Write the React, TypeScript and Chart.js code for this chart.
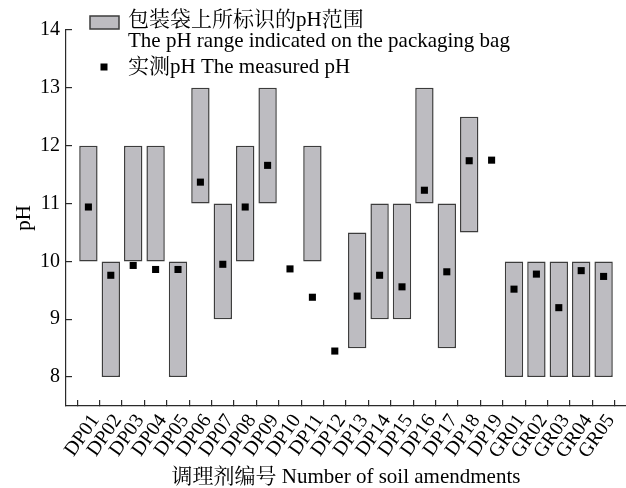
import React, { useEffect, useRef } from 'react';
import { Chart, registerables } from 'chart.js';

Chart.register(...registerables);

const categories = [
  'DP01', 'DP02', 'DP03', 'DP04', 'DP05', 'DP06', 'DP07', 'DP08', 'DP09', 'DP10',
  'DP11', 'DP12', 'DP13', 'DP14', 'DP15', 'DP16', 'DP17', 'DP18', 'DP19',
  'GR01', 'GR02', 'GR03', 'GR04', 'GR05',
];
const rangeLow: (number | null)[] = [
  10, 8, 10, 10, 8, 11, 9, 10, 11, null,
  10, null, 8.5, 9, 9, 11, 8.5, 10.5, null,
  8, 8, 8, 8, 8,
];
const rangeHigh: (number | null)[] = [
  12, 10, 12, 12, 10, 13, 11, 12, 13, null,
  12, null, 10.5, 11, 11, 13, 11, 12.5, null,
  10, 10, 10, 10, 10,
];
const measured = [
  10.94, 9.76, 9.93, 9.86, 9.86, 11.37, 9.95, 10.94, 11.66, 9.87,
  9.38, 8.45, 9.4, 9.76, 9.56, 11.23, 9.82, 11.74, 11.75,
  9.52, 9.78, 9.2, 9.84, 9.74,
];
const yTicks = [8, 9, 10, 11, 12, 13, 14];
const yMin = 7.5;
const yMax = 14;
const legendRangeLines = ['包装袋上所标识的pH范围', 'The pH range indicated on the packaging bag'];
const legendMeasured = '实测pH The measured pH';
const xTitle = '调理剂编号 Number of soil amendments';
const yTitle = 'pH';

const FONT = "'Liberation Serif', 'Times New Roman', 'Noto Serif CJK SC', 'Noto Sans CJK SC', serif";
const BAR_FILL = '#bdbcc1';
const BAR_EDGE = '#3c3c3c';
const AXIS = '#2a2a2a';

const legendPlugin = {
  id: 'customLegend',
  afterDraw(chart: any) {
    const ctx = chart.ctx;
    ctx.save();
    ctx.fillStyle = BAR_FILL;
    ctx.strokeStyle = BAR_EDGE;
    ctx.lineWidth = 1.5;
    ctx.fillRect(90, 16, 29, 13);
    ctx.strokeRect(90, 16, 29, 13);
    ctx.fillStyle = '#000';
    ctx.fillRect(100.5, 63.5, 7, 7);
    ctx.font = `21px ${FONT}`;
    ctx.textAlign = 'left';
    ctx.textBaseline = 'middle';
    ctx.fillStyle = '#000';
    ctx.fillText(legendRangeLines[0], 128, 20);
    ctx.fillText(legendRangeLines[1], 128, 41);
    ctx.fillText(legendMeasured, 128, 67);
    ctx.restore();
  },
};

export default function App() {
  const canvasRef = useRef<HTMLCanvasElement | null>(null);

  useEffect(() => {
    if (!canvasRef.current) return;
    const barData = categories
      .map((_, i) => ({ x: i, y: [rangeLow[i], rangeHigh[i]] }))
      .filter((d) => d.y[0] !== null && d.y[1] !== null);
    const pointData = measured.map((v, i) => ({ x: i, y: v }));

    const chart = new Chart(canvasRef.current, {
      type: 'bar',
      data: {
        datasets: [
          {
            type: 'bar',
            label: legendRangeLines.join(' '),
            data: barData as any,
            backgroundColor: BAR_FILL,
            borderColor: BAR_EDGE,
            borderWidth: 1.5,
            borderSkipped: false,
            categoryPercentage: 1,
            barPercentage: 0.82,
            order: 2,
          },
          {
            type: 'scatter',
            label: legendMeasured,
            data: pointData,
            pointStyle: 'rect',
            pointRadius: 5,
            pointBorderWidth: 0,
            backgroundColor: '#000',
            borderColor: '#000',
            order: 1,
          } as any,
        ],
      },
      options: {
        responsive: false,
        animation: false,
        layout: { autoPadding: false, padding: { top: 30, right: 0, left: 0, bottom: 0 } },
        plugins: {
          legend: { display: false },
          tooltip: { enabled: false },
        },
        scales: {
          x: {
            type: 'linear',
            min: -1,
            max: categories.length,
            offset: false,
            afterBuildTicks: (scale: any) => {
              scale.ticks = categories.map((_, i) => ({ value: i }));
            },
            afterFit: (scale: any) => {
              scale.height = 82;
              scale.paddingLeft = 0;
              scale.paddingRight = 0;
            },
            ticks: {
              autoSkip: false,
              minRotation: 55,
              maxRotation: 55,
              padding: 10,
              labelOffset: 7,
              color: '#000',
              font: { family: FONT, size: 20 },
              callback: (v: any) => categories[Number(v)] ?? '',
            },
            grid: {
              drawOnChartArea: false,
              drawTicks: true,
              tickLength: -6,
              color: AXIS,
              lineWidth: 1.2,
            },
            border: { display: true, color: AXIS, width: 1.2 },
            title: {
              display: true,
              text: xTitle,
              color: '#000',
              font: { family: FONT, size: 21, lineHeight: 1 },
              padding: { top: 0, bottom: 0 },
            },
          },
          y: {
            type: 'linear',
            min: yMin,
            max: yMax,
            afterBuildTicks: (scale: any) => {
              scale.ticks = yTicks.map((v) => ({ value: v }));
            },
            afterFit: (scale: any) => {
              scale.width = 66;
              scale.paddingTop = 0;
              scale.paddingBottom = 0;
            },
            ticks: {
              padding: 12,
              color: '#000',
              font: { family: FONT, size: 20 },
              callback: (v: any) => String(v),
            },
            grid: {
              drawOnChartArea: false,
              drawTicks: true,
              tickLength: -6,
              color: AXIS,
              lineWidth: 1.2,
            },
            border: { display: true, color: AXIS, width: 1.2 },
            title: {
              display: true,
              text: yTitle,
              color: '#000',
              font: { family: FONT, size: 21, lineHeight: 1 },
              padding: { top: 13.5, bottom: 0 },
            },
          },
        },
      },
      plugins: [legendPlugin],
    });
    return () => chart.destroy();
  }, []);

  return (
    <div style={{ position: 'absolute', left: 0, top: 0, width: 626, height: 488 }}>
      <canvas ref={canvasRef} width={626} height={488} style={{ display: 'block' }} />
    </div>
  );
}
